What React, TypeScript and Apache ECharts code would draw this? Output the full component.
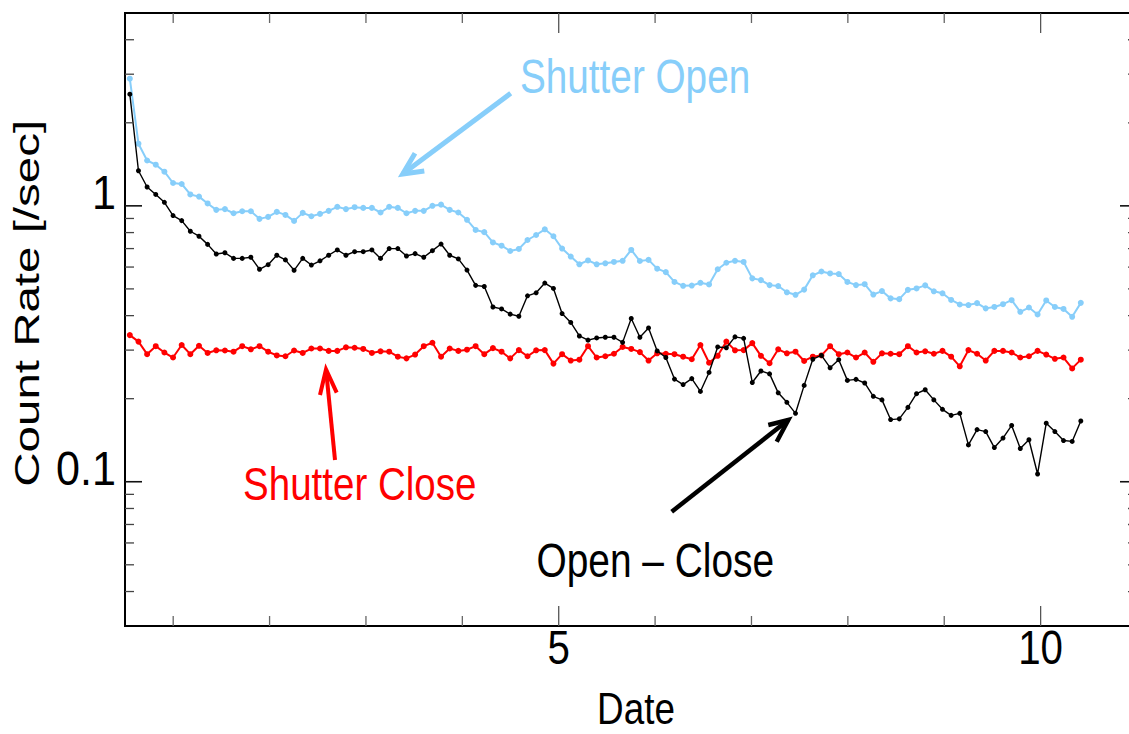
import React, { useEffect, useRef } from 'react';
import * as echarts from 'echarts';

// Sampling grid of the observations (Date axis)
const DATE_START = 0.55;
const DATE_STEP = 0.0897;

// Count rates [/sec]
const SHUTTER_OPEN = [
  2.89, 1.68, 1.46, 1.41, 1.33, 1.21, 1.2, 1.1, 1.08, 1.02,
  0.967, 0.973, 0.94, 0.956, 0.956, 0.897, 0.912, 0.951, 0.927, 0.882,
  0.943, 0.917, 0.935, 0.959, 0.992, 0.973, 0.989, 0.983, 0.983, 0.946,
  0.992, 0.983, 0.94, 0.959, 0.959, 1.0, 1.01, 0.967, 0.946, 0.89,
  0.818, 0.803, 0.737, 0.717, 0.686, 0.698, 0.752, 0.784, 0.822, 0.776,
  0.7, 0.655, 0.614, 0.634, 0.614, 0.619, 0.626, 0.632, 0.692, 0.631,
  0.637, 0.592, 0.575, 0.53, 0.513, 0.514, 0.526, 0.519, 0.589, 0.622,
  0.632, 0.626, 0.546, 0.538, 0.516, 0.512, 0.486, 0.476, 0.497, 0.56,
  0.578, 0.569, 0.566, 0.53, 0.516, 0.52, 0.477, 0.491, 0.462, 0.459,
  0.496, 0.502, 0.515, 0.49, 0.482, 0.456, 0.439, 0.437, 0.444, 0.425,
  0.43, 0.44, 0.455, 0.413, 0.428, 0.404, 0.454, 0.43, 0.423, 0.396,
  0.445,
];

const SHUTTER_CLOSE = [
  0.34, 0.322, 0.29, 0.31, 0.294, 0.282, 0.313, 0.29, 0.311, 0.293,
  0.2995, 0.299, 0.296, 0.31, 0.302, 0.31, 0.296, 0.287, 0.285, 0.299,
  0.293, 0.304, 0.304, 0.298, 0.298, 0.307, 0.306, 0.303, 0.293, 0.297,
  0.296, 0.284, 0.28, 0.289, 0.31, 0.319, 0.284, 0.304, 0.298, 0.301,
  0.31, 0.29, 0.305, 0.296, 0.28, 0.3, 0.285, 0.2995, 0.3, 0.268,
  0.29, 0.275, 0.277, 0.31, 0.282, 0.285, 0.291, 0.308, 0.303, 0.295,
  0.275, 0.292, 0.291, 0.29, 0.284, 0.278, 0.313, 0.27, 0.286, 0.322,
  0.2995, 0.3, 0.318, 0.286, 0.269, 0.302, 0.292, 0.296, 0.274, 0.284,
  0.287, 0.31, 0.29, 0.294, 0.282, 0.294, 0.272, 0.292, 0.291, 0.29,
  0.31, 0.294, 0.297, 0.291, 0.298, 0.284, 0.262, 0.3, 0.291, 0.275,
  0.298, 0.298, 0.294, 0.282, 0.285, 0.298, 0.289, 0.279, 0.282, 0.2575,
  0.277,
];

const OPEN_MINUS_CLOSE = [
  2.54, 1.34, 1.17, 1.1, 1.03, 0.922, 0.884, 0.809, 0.776, 0.725,
  0.669, 0.676, 0.645, 0.645, 0.651, 0.589, 0.612, 0.662, 0.637, 0.584,
  0.645, 0.61, 0.632, 0.662, 0.692, 0.662, 0.682, 0.682, 0.692, 0.645,
  0.7, 0.7, 0.658, 0.671, 0.651, 0.688, 0.727, 0.662, 0.642, 0.585,
  0.515, 0.51, 0.43, 0.423, 0.405, 0.398, 0.472, 0.484, 0.525, 0.502,
  0.407, 0.378, 0.3375, 0.326, 0.332, 0.334, 0.334, 0.32, 0.3905, 0.334,
  0.361, 0.298, 0.282, 0.2355, 0.225, 0.2365, 0.2125, 0.249, 0.308, 0.306,
  0.335, 0.331, 0.229, 0.252, 0.246, 0.21, 0.194, 0.177, 0.2235, 0.278,
  0.287, 0.259, 0.277, 0.233, 0.235, 0.228, 0.204, 0.198, 0.168, 0.169,
  0.186, 0.2085, 0.2155, 0.198, 0.183, 0.174, 0.177, 0.136, 0.1545, 0.152,
  0.133, 0.144, 0.16, 0.132, 0.142, 0.1067, 0.163, 0.152, 0.141, 0.14,
  0.166,
];

// Axis ticks and labels
const X_TICKS = [1, 2, 3, 4, 5, 6, 7, 8, 9, 10];
const X_LABELS = [5, 10];
const Y_TICKS = [0.04, 0.05, 0.06, 0.07, 0.08, 0.09, 0.1, 0.2, 0.3, 0.4, 0.5, 0.6, 0.7, 0.8, 0.9, 1, 2, 3, 4];
const Y_LABELS = [0.1, 1];

const BLUE = '#87CEFA';
const RED = '#FF0000';
const BLACK = '#000000';
const TXT_FONT = '"Liberation Sans", Arial, sans-serif';

const toXY = (arr: number[]) =>
  arr.map((v, i) => [Number((DATE_START + DATE_STEP * i).toFixed(4)), v]);

const near = (a: number, list: number[]) => list.some((b) => Math.abs(a - b) < 1e-9);

function textStyle(text: string, size: number, color: string, align: string, vAlign = 'middle') {
  return {
    text,
    fill: color,
    fontSize: size,
    fontFamily: TXT_FONT,
    align,
    textAlign: align,
    verticalAlign: vAlign,
    textVerticalAlign: vAlign,
  };
}

function textEl(text: string, x: number, y: number, size: number, sx: number, sy: number, color: string, align: string, rotation = 0) {
  return {
    type: 'text',
    x,
    y,
    rotation,
    scaleX: sx,
    scaleY: sy,
    silent: true,
    style: textStyle(text, size, color, align),
  };
}

function arrow(color: string, width: number, from: number[], tip: number[], w1: number[], w2: number[]) {
  return [
    {
      type: 'line',
      silent: true,
      shape: { x1: from[0], y1: from[1], x2: tip[0], y2: tip[1] },
      style: { stroke: color, lineWidth: width, lineCap: 'butt' },
    },
    {
      type: 'polyline',
      silent: true,
      shape: { points: [w1, tip, w2] },
      style: { stroke: color, lineWidth: width, fill: null, lineJoin: 'miter', lineCap: 'butt' },
    },
  ];
}

export default function App() {
  const ref = useRef<HTMLDivElement>(null);

  useEffect(() => {
    if (!ref.current) return;
    const chart = echarts.init(ref.current, null, { renderer: 'svg' });

    // left/right log ticks (inward) with labels for the decades
    const yTickSeries = {
      type: 'custom',
      silent: true,
      z: 5,
      data: Y_TICKS.map((v) => [1, v, near(v, Y_LABELS) ? 1 : 0]),
      renderItem: (params: any, api: any) => {
        const cs = params.coordSys;
        const v = api.value(1);
        const y = api.coord([api.value(0), v])[1];
        const major = api.value(2) === 1;
        const len = major ? 17 : 9;
        const style = { stroke: major ? '#111' : '#444', lineWidth: major ? 1.6 : 1.3 };
        const children: any[] = [
          { type: 'line', shape: { x1: cs.x, y1: y, x2: cs.x + len, y2: y }, style },
          { type: 'line', shape: { x1: cs.x + cs.width, y1: y, x2: cs.x + cs.width - len, y2: y }, style },
        ];
        if (major) {
          children.push({
            type: 'text',
            x: cs.x - 9,
            y: y - 14,
            scaleX: 0.88,
            style: textStyle(String(v), 49, BLACK, 'right'),
          });
        }
        return { type: 'group', children };
      },
    };

    // bottom/top ticks (inward) with labels at 5 and 10
    const xTickSeries = {
      type: 'custom',
      silent: true,
      z: 5,
      data: X_TICKS.map((v) => [v, 1, near(v, X_LABELS) ? 1 : 0]),
      renderItem: (params: any, api: any) => {
        const cs = params.coordSys;
        const v = api.value(0);
        const x = api.coord([v, api.value(1)])[0];
        const major = api.value(2) === 1;
        const len = major ? 20 : 10;
        const style = { stroke: major ? '#555' : '#666', lineWidth: 1.3 };
        const bottom = cs.y + cs.height;
        const children: any[] = [
          { type: 'line', shape: { x1: x, y1: bottom, x2: x, y2: bottom - len }, style },
          { type: 'line', shape: { x1: x, y1: cs.y, x2: x, y2: cs.y + len }, style },
        ];
        if (major) {
          children.push({
            type: 'text',
            x,
            y: bottom + 21.5,
            scaleX: 0.84,
            style: textStyle(String(v), 48, BLACK, 'center'),
          });
        }
        return { type: 'group', children };
      },
    };

    const lineSeries = (name: string, arr: number[], color: string, width: number, size: number, z: number) => ({
      name,
      type: 'line',
      data: toXY(arr),
      symbol: 'circle',
      symbolSize: size,
      showSymbol: true,
      z,
      lineStyle: { color, width },
      itemStyle: { color },
    });

    chart.setOption({
      animation: false,
      backgroundColor: '#ffffff',
      grid: {
        left: 125,
        top: 13,
        width: 1012,
        height: 613,
        show: true,
        borderColor: '#000',
        borderWidth: 2,
        backgroundColor: 'transparent',
      },
      xAxis: {
        type: 'value',
        min: 0.5,
        max: 11,
        interval: 0.5,
        axisLine: { show: false, onZero: false },
        axisTick: { show: false },
        splitLine: { show: false },
        axisLabel: { show: false },
      },
      yAxis: {
        type: 'log',
        logBase: 10,
        min: 0.03,
        max: 5,
        axisLine: { show: false },
        axisTick: { show: false },
        splitLine: { show: false },
        minorTick: { show: false },
        axisLabel: { show: false },
      },
      series: [
        yTickSeries,
        xTickSeries,
        lineSeries('Shutter Open', SHUTTER_OPEN, BLUE, 2, 6, 2),
        lineSeries('Shutter Close', SHUTTER_CLOSE, RED, 2, 6, 3),
        lineSeries('Open - Close', OPEN_MINUS_CLOSE, BLACK, 1.4, 5, 4),
      ],
      graphic: [
        textEl('Count Rate [/sec]', 27, 303.3, 35, 1.357, 1, BLACK, 'center', Math.PI / 2),
        textEl('Date', 636, 709.2, 42, 0.877, 1.05, BLACK, 'center'),
        textEl('Shutter Open', 520, 75.7, 49, 0.79, 1, BLUE, 'left'),
        textEl('Shutter Close', 243, 483.7, 47, 0.82, 1, RED, 'left'),
        textEl('Open \u2013 Close', 536.5, 560, 48, 0.81, 1, BLACK, 'left'),
        ...arrow(BLUE, 5, [510.7, 93.3], [402.7, 174], [415, 153.3], [424.3, 171]),
        ...arrow(RED, 4, [335, 460], [326, 369.3], [320, 395], [336.7, 392.7]),
        ...arrow(BLACK, 4.5, [671.7, 511.7], [788.3, 420], [768.3, 425], [776.7, 441.7]),
      ],
    });

    return () => chart.dispose();
  }, []);

  return (
    <div style={{ position: 'fixed', left: 0, top: 0, width: 1129, height: 734, overflow: 'hidden', background: '#fff' }}>
      <div ref={ref} style={{ width: 1150, height: 734 }} />
    </div>
  );
}
